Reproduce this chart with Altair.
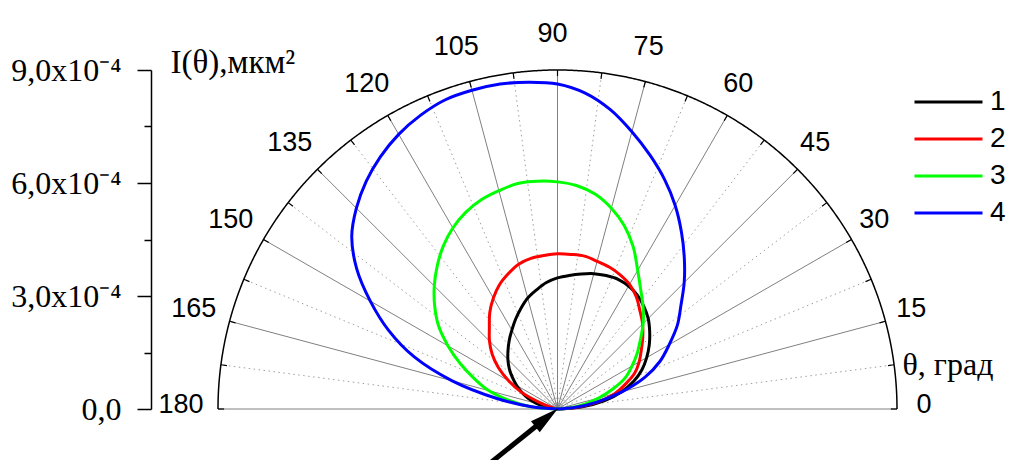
import math
import altair as alt
import pandas as pd

# ---------------- data (radius values in units of 1e-4 мкм^2) ----------------
angles = list(range(0, 181, 5))
series_names = ["1", "2", "3", "4"]
series_colors = ["#000000", "#ff0000", "#00ff00", "#0000ff"]

r_black = [0, 0.66, 1.27, 1.75, 2.15, 2.47, 2.73, 2.97, 3.19, 3.40, 3.56, 3.69, 3.77,
           3.80, 3.77, 3.72, 3.64, 3.56, 3.48, 3.37, 3.21, 3.05, 2.84, 2.63, 2.42, 2.23,
           2.04, 1.86, 1.67, 1.46, 1.25, 1.04, 0.82, 0.58, 0.32, 0.13, 0]
r_red = [0, 0.48, 1.09, 1.57, 1.91, 2.26, 2.50, 2.71, 2.95, 3.19, 3.40, 3.64, 3.82,
         3.93, 4.01, 4.06, 4.12, 4.12, 4.12, 4.09, 4.06, 3.98, 3.82, 3.64, 3.40, 3.13,
         2.81, 2.55, 2.26, 1.91, 1.49, 1.06, 0.50, 0.16, 0, 0, 0]
r_green = [0, 0.32, 0.74, 1.14, 1.57, 1.99, 2.28, 2.58, 2.87, 3.21, 3.53, 3.85, 4.25,
           4.75, 5.18, 5.52, 5.79, 5.95, 6.03, 6.07, 6.08, 6.00, 5.91, 5.76, 5.55, 5.28,
           4.96, 4.62, 4.25, 3.85, 3.35, 2.84, 2.34, 1.89, 1.30, 0.72, 0]
r_blue = [0, 0.45, 1.06, 1.78, 2.47, 3.00, 3.42, 3.88, 4.27, 4.75, 5.23, 5.73, 6.24,
          6.72, 7.17, 7.62, 8.07, 8.42, 8.63, 8.71, 8.76, 8.76, 8.73, 8.60, 8.42, 8.18,
          7.89, 7.54, 7.12, 6.50, 5.73, 4.94, 4.04, 2.89, 1.65, 0.69, 0]

r_max = 9.0
major_angles = list(range(0, 181, 15))
minor_angles = [7.5 + 15 * k for k in range(12)]
arc_tick_angles = [7.5 * k for k in range(25)]
angle_labels = [str(a) for a in major_angles]

y_tick_values = [0, 1.5, 3, 4.5, 6, 7.5, 9]
y_tick_labels = ["0,0", "", "3,0x10⁻⁴", "", "6,0x10⁻⁴", "", "9,0x10⁻⁴"]

arrow_x = [-1.94, 0.0]
arrow_y = [-1.56, 0.0]

# ---------------- tables ----------------
rows = []
for name, vals in zip(series_names, [r_black, r_red, r_green, r_blue]):
    for a, v in zip(angles, vals):
        rows.append({"theta": a, "r": v, "series": name})
curves = pd.DataFrame(rows)

major_df = pd.DataFrame({"a": major_angles, "lab": angle_labels})
minor_df = pd.DataFrame({"a": minor_angles})
tick_df = pd.DataFrame({"a": arc_tick_angles})
arrow_df = pd.DataFrame({"x0": [arrow_x[0]], "y0": [arrow_y[0]],
                         "x1": [arrow_x[1]], "y1": [arrow_y[1]]})
head_angle = math.degrees(math.atan2(arrow_x[1] - arrow_x[0], arrow_y[1] - arrow_y[0]))

xs = alt.Scale(domain=[-r_max, r_max], nice=False, zero=False)
ys = alt.Scale(domain=[0, r_max], nice=False, zero=False)

SERIF = "Liberation Serif"
SANS = "Liberation Sans"

label_expr = "[" + ",".join("'%s'" % s for s in y_tick_labels) + "][indexof([" + \
    ",".join(str(v) for v in y_tick_values) + "], datum.value)]"

y_axis = alt.Axis(
    orient="left", offset=67, values=y_tick_values, labelExpr=label_expr,
    tickSize={"condition": {"test": "datum.value % 3 == 0", "value": 14}, "value": 7},
    tickColor="black", tickWidth=1.5, domainColor="black", domainWidth=1.5,
    labelFont=SERIF, labelFontSize=32, labelColor="black", labelPadding=16,
    labelOverlap=False, labelBaseline="middle", grid=False,
    title="I(θ),мкм²", titleAngle=0, titleX=19, titleY=2, titleAlign="left",
    titleBaseline="alphabetic", titleFont=SERIF, titleFontSize=33,
    titleFontWeight="normal", titleColor="black",
)
x_axis = alt.Axis(
    orient="bottom", domain=False, ticks=False, labels=False, grid=False,
    title="θ, град", titleX=684, titleY=-35, titleAlign="left",
    titleBaseline="alphabetic", titleFont=SERIF, titleFontSize=32,
    titleFontWeight="normal", titleColor="black",
)


def X(field):
    return alt.X(field, scale=xs, axis=x_axis)


def Y(field):
    return alt.Y(field, scale=ys, axis=y_axis)


spoke_calc = dict(x0="0", y0="0",
                  xe="%f*cos(datum.a*PI/180)" % r_max,
                  ye="%f*sin(datum.a*PI/180)" % r_max)

minor_spokes = alt.Chart(minor_df).transform_calculate(**spoke_calc).mark_rule(
    color="#a0a0a0", strokeWidth=1, strokeDash=[1.5, 3.5]
).encode(x=X("x0:Q"), y=Y("y0:Q"), x2="xe:Q", y2="ye:Q")

major_spokes = alt.Chart(major_df).transform_calculate(**spoke_calc).mark_rule(
    color="#808080", strokeWidth=1
).encode(x=X("x0:Q"), y=Y("y0:Q"), x2="xe:Q", y2="ye:Q")

outer_arc = alt.Chart(alt.sequence(0, 180.25, 0.25, as_="t")).transform_calculate(
    ax="%f*cos(datum.t*PI/180)" % r_max, ay="%f*sin(datum.t*PI/180)" % r_max
).mark_line(color="black", strokeWidth=1.5).encode(
    x=X("ax:Q"), y=Y("ay:Q"), order="t:Q",
)

arc_ticks = alt.Chart(tick_df).transform_calculate(
    xa="%f*cos(datum.a*PI/180)" % r_max, ya="%f*sin(datum.a*PI/180)" % r_max,
    xb="%f*cos(datum.a*PI/180)" % (r_max * 0.982), yb="%f*sin(datum.a*PI/180)" % (r_max * 0.982),
).mark_rule(color="black", strokeWidth=1.2).encode(
    x=X("xa:Q"), y=Y("ya:Q"), x2="xb:Q", y2="yb:Q",
)

lines = alt.Chart(curves).transform_calculate(
    cx="datum.r*cos(datum.theta*PI/180)", cy="datum.r*sin(datum.theta*PI/180)"
).mark_line(strokeWidth=3, interpolate="catmull-rom").encode(
    x=X("cx:Q"), y=Y("cy:Q"),
    order="theta:Q",
    color=alt.Color(
        "series:N",
        scale=alt.Scale(domain=series_names, range=series_colors),
        legend=alt.Legend(
            title=None, orient="none", legendX=695, legendY=17,
            symbolType="stroke", symbolSize=4624, symbolStrokeWidth=3,
            labelFont=SANS, labelFontSize=28, labelColor="black",
            labelOffset=6, clipHeight=30, rowPadding=7,
        ),
    ),
)

angle_text = alt.Chart(major_df).transform_calculate(
    lx="%f*cos(datum.a*PI/180)" % (r_max * 1.094), ly="%f*sin(datum.a*PI/180)" % (r_max * 1.094)
).mark_text(font=SANS, fontSize=27, color="black", align="center", baseline="middle",
            dx=-5, dy=-4).encode(
    x=X("lx:Q"), y=Y("ly:Q"), text="lab:N",
)

arrow_line = alt.Chart(arrow_df).transform_calculate(
    xh="datum.x0 + 0.8*(datum.x1-datum.x0)", yh="datum.y0 + 0.8*(datum.y1-datum.y0)"
).mark_rule(color="black", strokeWidth=5).encode(
    x=X("x0:Q"), y=Y("y0:Q"), x2="xh:Q", y2="yh:Q",
)
arrow_head = alt.Chart(arrow_df).transform_calculate(
    xh="datum.x0 + 0.83*(datum.x1-datum.x0)", yh="datum.y0 + 0.83*(datum.y1-datum.y0)"
).mark_point(
    shape="M0,-1L0.42,0.75L-0.42,0.75Z", filled=True, color="black", opacity=1,
    size=1100, angle=head_angle,
).encode(x=X("xh:Q"), y=Y("yh:Q"))

chart = alt.layer(
    minor_spokes, major_spokes, outer_arc, arc_ticks, lines, angle_text, arrow_line, arrow_head
).properties(
    width=679, height=339,
    autosize=alt.AutoSizeParams(type="none"),
    padding={"left": 210, "top": 62, "right": 109, "bottom": 51},
    background="white",
).configure_view(stroke=None, clip=False)

chart.save("out.html", embed_options={"renderer": "svg", "actions": False})
